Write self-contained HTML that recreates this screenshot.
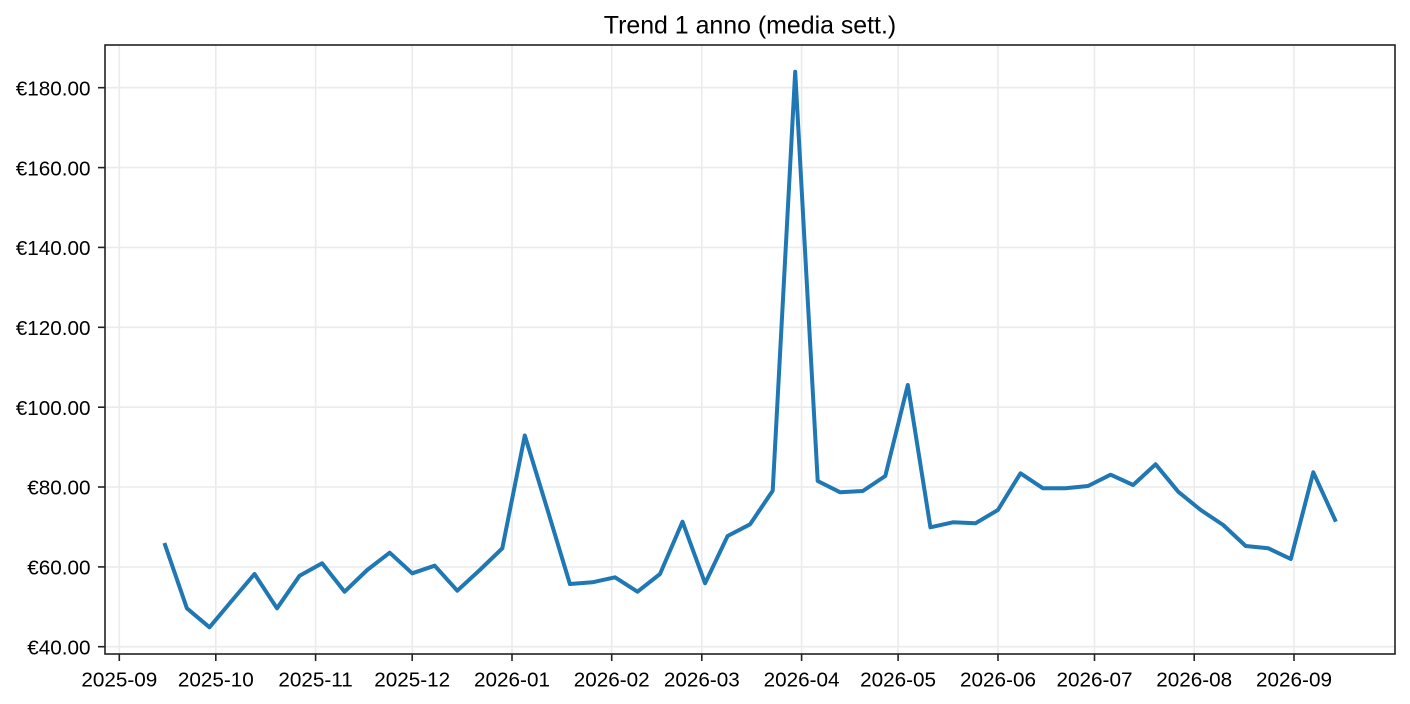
<!DOCTYPE html>
<html>
<head>
<meta charset="utf-8">
<style>
  html, body { margin: 0; padding: 0; background: #ffffff; }
  svg { display: block; font-family: "Liberation Sans", Arial, sans-serif; }
</style>
</head>
<body>
<svg width="1410" height="704" viewBox="0 0 1410 704" xmlns="http://www.w3.org/2000/svg">
  <rect x="0" y="0" width="1410" height="704" fill="#ffffff"/>
  <!-- grid -->
  <g stroke="#ebebeb" stroke-width="1.6" fill="none">
    <line x1="105" x2="1395" y1="646.7" y2="646.7"/>
    <line x1="105" x2="1395" y1="566.9" y2="566.9"/>
    <line x1="105" x2="1395" y1="487.0" y2="487.0"/>
    <line x1="105" x2="1395" y1="407.2" y2="407.2"/>
    <line x1="105" x2="1395" y1="327.3" y2="327.3"/>
    <line x1="105" x2="1395" y1="247.4" y2="247.4"/>
    <line x1="105" x2="1395" y1="167.6" y2="167.6"/>
    <line x1="105" x2="1395" y1="87.7" y2="87.7"/>
    <line y1="45" y2="654" x1="119.3" x2="119.3"/>
    <line y1="45" y2="654" x1="215.8" x2="215.8"/>
    <line y1="45" y2="654" x1="315.6" x2="315.6"/>
    <line y1="45" y2="654" x1="412.2" x2="412.2"/>
    <line y1="45" y2="654" x1="512.0" x2="512.0"/>
    <line y1="45" y2="654" x1="611.7" x2="611.7"/>
    <line y1="45" y2="654" x1="701.8" x2="701.8"/>
    <line y1="45" y2="654" x1="801.6" x2="801.6"/>
    <line y1="45" y2="654" x1="898.1" x2="898.1"/>
    <line y1="45" y2="654" x1="998.0" x2="998.0"/>
    <line y1="45" y2="654" x1="1094.5" x2="1094.5"/>
    <line y1="45" y2="654" x1="1194.2" x2="1194.2"/>
    <line y1="45" y2="654" x1="1294.0" x2="1294.0"/>
  </g>

  <!-- data line -->
  <polyline fill="none" stroke="#1f77b4" stroke-width="4" stroke-linejoin="round" stroke-linecap="butt"
    points="164.4,543 186.9,608.3 209.5,627.3 232.0,600.5 254.5,574 277.0,608.3 299.6,575.7 322.1,563.3 344.6,591.7 367.2,570 389.7,552.7 412.2,573.3 434.7,565.7 457.3,590.7 479.8,570 502.3,548.3 524.8,435.5 547.4,509.5 569.9,584 592.4,582.3 615.0,577.3 637.5,591.7 660.0,574 682.5,521.7 705.1,583.3 727.6,536 750.1,524.3 772.7,490.7 795.2,71.7 817.7,481 840.2,492.3 862.8,491 885.3,476 907.8,385 930.4,527.3 952.9,522.3 975.4,523.3 997.9,510 1020.5,473.3 1043.0,488.3 1065.5,488.3 1088.0,486 1110.6,474.7 1133.1,485 1155.6,464.3 1178.2,491.7 1200.7,510 1223.2,525 1245.7,546 1268.3,548.3 1290.8,559 1313.3,472.3 1335.9,521.7"/>

  <!-- axes frame -->
  <rect x="105" y="45" width="1290" height="609" fill="none" stroke="#222222" stroke-width="1.6"/>

  <!-- y ticks -->
  <g stroke="#222222" stroke-width="1.6">
    <line x1="98" x2="105" y1="646.7" y2="646.7"/>
    <line x1="98" x2="105" y1="566.9" y2="566.9"/>
    <line x1="98" x2="105" y1="487.0" y2="487.0"/>
    <line x1="98" x2="105" y1="407.2" y2="407.2"/>
    <line x1="98" x2="105" y1="327.3" y2="327.3"/>
    <line x1="98" x2="105" y1="247.4" y2="247.4"/>
    <line x1="98" x2="105" y1="167.6" y2="167.6"/>
    <line x1="98" x2="105" y1="87.7" y2="87.7"/>
  </g>
  <g font-size="20.7" fill="#000000" text-anchor="end">
    <text x="90.5" y="654.4">€40.00</text>
    <text x="90.5" y="574.6">€60.00</text>
    <text x="90.5" y="494.7">€80.00</text>
    <text x="90.5" y="414.9">€100.00</text>
    <text x="90.5" y="335.0">€120.00</text>
    <text x="90.5" y="255.1">€140.00</text>
    <text x="90.5" y="175.3">€160.00</text>
    <text x="90.5" y="95.4">€180.00</text>
  </g>

  <!-- x ticks -->
  <g stroke="#222222" stroke-width="1.6">
    <line y1="654" y2="661" x1="119.3" x2="119.3"/>
    <line y1="654" y2="661" x1="215.8" x2="215.8"/>
    <line y1="654" y2="661" x1="315.6" x2="315.6"/>
    <line y1="654" y2="661" x1="412.2" x2="412.2"/>
    <line y1="654" y2="661" x1="512.0" x2="512.0"/>
    <line y1="654" y2="661" x1="611.7" x2="611.7"/>
    <line y1="654" y2="661" x1="701.8" x2="701.8"/>
    <line y1="654" y2="661" x1="801.6" x2="801.6"/>
    <line y1="654" y2="661" x1="898.1" x2="898.1"/>
    <line y1="654" y2="661" x1="998.0" x2="998.0"/>
    <line y1="654" y2="661" x1="1094.5" x2="1094.5"/>
    <line y1="654" y2="661" x1="1194.2" x2="1194.2"/>
    <line y1="654" y2="661" x1="1294.0" x2="1294.0"/>
  </g>
  <g font-size="20.7" fill="#000000" text-anchor="middle">
    <text x="119.3" y="686.3">2025-09</text>
    <text x="215.8" y="686.3">2025-10</text>
    <text x="315.6" y="686.3">2025-11</text>
    <text x="412.2" y="686.3">2025-12</text>
    <text x="512.0" y="686.3">2026-01</text>
    <text x="611.7" y="686.3">2026-02</text>
    <text x="701.8" y="686.3">2026-03</text>
    <text x="801.6" y="686.3">2026-04</text>
    <text x="898.1" y="686.3">2026-05</text>
    <text x="998.0" y="686.3">2026-06</text>
    <text x="1094.5" y="686.3">2026-07</text>
    <text x="1194.2" y="686.3">2026-08</text>
    <text x="1294.0" y="686.3">2026-09</text>
  </g>

  <!-- title -->
  <text x="750" y="33.3" font-size="24.9" text-anchor="middle" fill="#000000">Trend 1 anno (media sett.)</text>
</svg>
</body>
</html>
